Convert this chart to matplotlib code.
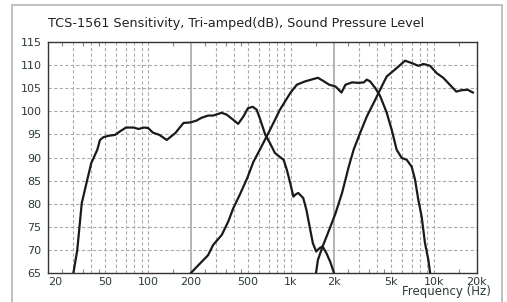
import matplotlib
matplotlib.use("Agg")
import matplotlib.pyplot as plt
from matplotlib.patches import Rectangle
from matplotlib.ticker import FixedLocator, NullFormatter

# woofer
woofer_f = [30, 31.9, 34.3, 37.5, 40, 44.1, 46, 48.6, 52.6, 58.6, 63.8, 70, 78.9, 85.6,
            93.9, 100, 108, 120, 135, 155, 177, 197, 218, 236, 263, 285, 327, 355, 394,
            427, 465, 500, 540, 575, 606, 660, 714, 772, 830, 889, 937, 990, 1041, 1080,
            1126, 1220, 1285, 1352, 1425, 1502, 1584, 1668, 1775, 1883, 2000]
woofer_db = [65, 69.9, 80.1, 85.2, 88.8, 91.7, 93.8, 94.4, 94.7, 94.9, 95.7, 96.5, 96.5, 96.2,
             96.5, 96.4, 95.4, 94.9, 93.8, 95.3, 97.5, 97.6, 98.0, 98.6, 99.1, 99.1, 99.7, 99.3, 98.2,
             97.3, 98.9, 100.7, 101.0, 100.4, 98.5, 95.0, 93.1, 91.0, 90.2, 89.5, 87.3, 84.4, 81.5, 82.0,
             82.3, 81.2, 78.6, 75.0, 71.4, 69.6, 70.3, 70.7, 69.2, 67.4, 65]

# midrange
mid_f = [200, 231, 263, 285, 328, 364, 395, 438, 494, 547, 606, 714, 839, 990, 1100,
         1252, 1425, 1546, 1668, 1854, 2054, 2260, 2410, 2680, 2980, 3237, 3400, 3590,
         3890, 4220, 4690, 5080, 5500, 5970, 6470, 7010, 7400, 7800, 8230, 8690, 9170, 9430]
mid_db = [65, 67.0, 68.8, 71.0, 73.2, 76.1, 79.0, 81.9, 85.5, 89.1, 91.7, 96.0, 100.4, 104.0, 105.8,
          106.5, 107.0, 107.3, 106.7, 105.8, 105.4, 104.1, 105.8, 106.3, 106.2, 106.3, 106.9, 106.5,
          105.1, 103.3, 99.7, 96.0, 91.7, 89.9, 89.5, 88.0, 85.2, 80.8, 77.2, 71.4, 67.8, 65]

# tweeter
tw_f = [1500, 1546, 1668, 1854, 2054, 2280, 2410, 2540, 2750, 3050, 3400, 3890, 4320,
        4690, 5360, 6300, 7010, 7800, 8470, 9430, 10500, 11660, 12960, 14400, 15600,
        17300, 18800]
tw_db = [65, 67.8, 70.7, 74.3, 77.9, 82.3, 85.2, 88.0, 91.7, 95.3, 98.9, 102.5, 105.4,
         107.6, 109.1, 111.0, 110.5, 109.9, 110.3, 109.9, 108.3, 107.3, 105.8, 104.3, 104.6,
         104.7, 104.1]

x_ticks = [20, 50, 100, 200, 500, 1000, 2000, 5000, 10000, 20000]
x_labels = ['20', '50', '100', '200', '500', '1k', '2k', '5k', '10k', '20k']
y_ticks = [65, 70, 75, 80, 85, 90, 95, 100, 105, 110, 115]

fig = plt.figure(figsize=(5.07, 3.02), dpi=100)
fig.patches.append(Rectangle((12 / 507, -0.1), 490 / 507, 1.1 - 5 / 302,
                             transform=fig.transFigure, fill=False,
                             edgecolor='#b4b4b4', lw=1.2))
ax = fig.add_axes([48.3 / 507, 29.3 / 302, 428.4 / 507, 230.4 / 302])
ax.set_xscale('log')
ax.set_xlim(20, 20000)
ax.set_ylim(65, 115)

# grid
dashed = [m * 10 ** k for k in (1, 2, 3) for m in range(3, 11)]
for f in dashed:
    ax.axvline(f, color='#ababab', lw=0.8, ls=(0, (3, 2)), zorder=1)
for f in (200, 2000):
    ax.axvline(f, color='#a0a0a0', lw=1.1, zorder=1)
for y in y_ticks[1:-1]:
    ax.axhline(y, color='#ababab', lw=0.8, ls=(0, (3, 2)), zorder=1)

for f, d in ((woofer_f, woofer_db), (mid_f, mid_db), (tw_f, tw_db)):
    ax.plot(f, d, color='#1a1a1a', lw=1.6, zorder=3, solid_joinstyle='round')

ax.xaxis.set_major_locator(FixedLocator(x_ticks))
ax.set_xticklabels(x_labels)
minor = [m * 10 ** k for k in (1, 2, 3) for m in (2.5, 3.5, 4.5, 15)]
ax.xaxis.set_minor_locator(FixedLocator(minor))
ax.xaxis.set_minor_formatter(NullFormatter())
ax.set_yticks(y_ticks)
ax.tick_params(axis='x', which='major', length=0, pad=3, labelsize=8, labelcolor='#2b3a3a')
ax.tick_params(axis='x', which='minor', length=3, direction='in', top=True,
               color='#888888', width=0.8)
ax.tick_params(axis='y', length=0, pad=5, labelsize=8, labelcolor='#2b3a3a')
ax.get_xticklabels()[0].set_horizontalalignment('left')

for s in ax.spines.values():
    s.set_color('#333333')
    s.set_linewidth(1.0)

fig.text(48 / 507, 1 - 24 / 302, 'TCS-1561 Sensitivity, Tri-amped(dB), Sound Pressure Level',
         ha='left', va='center', fontsize=9.2, color='#222222')
fig.text(491 / 507, 1 - 292 / 302, 'Frequency (Hz)', ha='right', va='center',
         fontsize=8.5, color='#2b3a3a')

fig.savefig('out.png', dpi=100)
